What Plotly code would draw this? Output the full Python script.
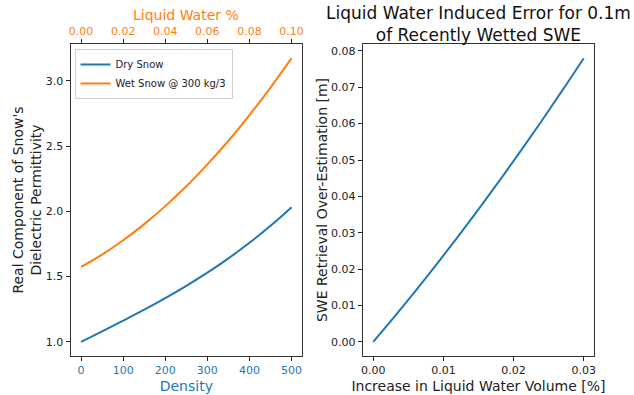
import plotly.graph_objects as go

# ---- data ----
density = [0, 50, 100, 150, 200, 250, 300, 350, 400, 450, 500]
dry_eps = [1.000, 1.080, 1.162, 1.246, 1.335, 1.429, 1.530, 1.640, 1.759, 1.889, 2.032]

liquid_water = [0.00, 0.01, 0.02, 0.03, 0.04, 0.05, 0.06, 0.07, 0.08, 0.09, 0.10]
wet_eps = [1.575, 1.669, 1.778, 1.902, 2.040, 2.192, 2.360, 2.541, 2.738, 2.949, 3.174]

lw_increase = [0.000, 0.003, 0.006, 0.009, 0.012, 0.015, 0.018, 0.021, 0.024, 0.027, 0.030]
swe_error = [0.0000, 0.00687, 0.01394, 0.02123, 0.02872, 0.03641, 0.04432, 0.05243, 0.06074, 0.06927, 0.0780]

density_ticks = [0, 100, 200, 300, 400, 500]
lw_ticks = [0.00, 0.02, 0.04, 0.06, 0.08, 0.10]
eps_ticks = [1.0, 1.5, 2.0, 2.5, 3.0]
inc_ticks = [0.00, 0.01, 0.02, 0.03]
err_ticks = [0.00, 0.01, 0.02, 0.03, 0.04, 0.05, 0.06, 0.07, 0.08]

BLUE = "#1f77b4"
ORANGE = "#ff7f0e"
FONT = "DejaVu Sans"
W, H = 634, 395

fig = go.Figure()
fig.add_trace(go.Scatter(x=density, y=dry_eps, mode="lines", name="Dry Snow",
                         line=dict(color=BLUE, width=2, shape="spline"),
                         xaxis="x", yaxis="y"))
fig.add_trace(go.Scatter(x=liquid_water, y=wet_eps, mode="lines", name="Wet Snow @ 300 kg/3",
                         line=dict(color=ORANGE, width=2, shape="spline"),
                         xaxis="x3", yaxis="y"))
fig.add_trace(go.Scatter(x=lw_increase, y=swe_error, mode="lines", showlegend=False,
                         line=dict(color=BLUE, width=2, shape="spline"),
                         xaxis="x2", yaxis="y2"))

ydom = [1 - 356 / H, 1 - 44 / H]
left_dom = [69 / W, 302 / W]
right_dom = [363 / W, 596 / W]

axis_common = dict(showgrid=False, zeroline=False, ticks="outside", ticklen=4,
                   tickwidth=1, tickcolor="#222", showline=True, linecolor="#333",
                   linewidth=1)

title_center = (right_dom[0] + right_dom[1]) / 2

fig.update_layout(
    width=W, height=H,
    margin=dict(l=0, r=0, t=0, b=0),
    paper_bgcolor="white", plot_bgcolor="white",
    font=dict(family=FONT, size=11, color="#222"),
    showlegend=True,
    legend=dict(x=73 / W, y=1 - 49 / H, xanchor="left", yanchor="top",
                bgcolor="white", bordercolor="#d0d0d0", borderwidth=1,
                font=dict(family=FONT, size=10, color="#222"),
                itemwidth=30, tracegroupgap=0),
    xaxis=dict(domain=left_dom, anchor="y", range=[-25, 525], tickvals=density_ticks,
               tickfont=dict(color=BLUE, size=11), mirror=True,
               title=dict(text="Density", font=dict(color=BLUE, size=14), standoff=4),
               **axis_common),
    xaxis3=dict(overlaying="x", side="top", anchor="y", range=[-0.005, 0.105],
                tickvals=lw_ticks, tickformat=".2f",
                tickfont=dict(color=ORANGE, size=11),
                **axis_common),
    yaxis=dict(domain=ydom, anchor="x", range=[0.8913, 3.2827], tickvals=eps_ticks,
               tickformat=".1f", mirror=True,
               title=dict(text="Real Component of Snow's<br>Dielectric Permittivity",
                          font=dict(size=14), standoff=0),
               **axis_common),
    xaxis2=dict(domain=right_dom, anchor="y2", range=[-0.0015, 0.0315], tickvals=inc_ticks,
                tickformat=".2f", mirror=True,
                title=dict(text="Increase in Liquid Water Volume [%]", font=dict(size=14), standoff=4),
                **axis_common),
    yaxis2=dict(domain=ydom, anchor="x2", range=[-0.0039, 0.0819], tickvals=err_ticks,
                tickformat=".2f", mirror=True,
                title=dict(text="SWE Retrieval Over-Estimation [m]", font=dict(size=14), standoff=0),
                **axis_common),
    annotations=[
        dict(text="Liquid Water %", x=(left_dom[0] + left_dom[1]) / 2, y=1 - 15 / H,
             xref="paper", yref="paper", xanchor="center", yanchor="middle",
             showarrow=False, font=dict(family=FONT, size=14, color=ORANGE)),
        dict(text="Liquid Water Induced Error for 0.1m<br>of Recently Wetted SWE",
             x=title_center, y=1 - 1 / H,
             xref="paper", yref="paper", xanchor="center", yanchor="top",
             showarrow=False, font=dict(family=FONT, size=17, color="#111")),
    ],
)

fig.write_html("out.html")
